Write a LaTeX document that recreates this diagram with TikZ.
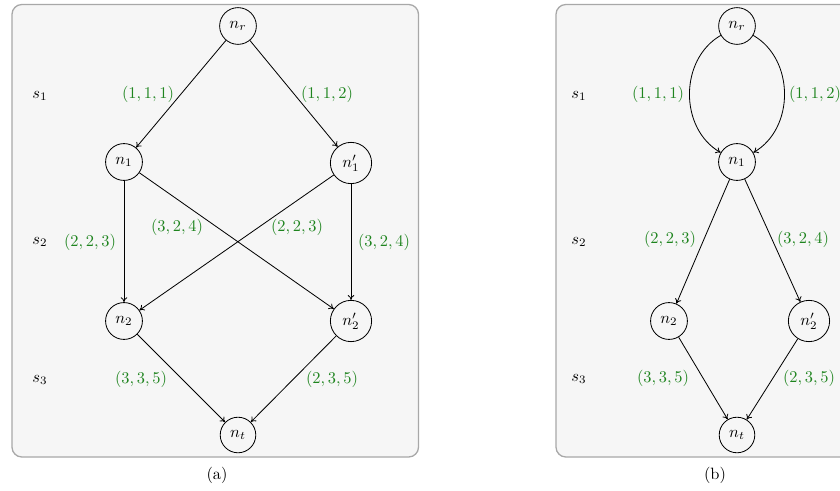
\documentclass[tikz,border=0pt]{standalone}
\usetikzlibrary{arrows.meta}
\definecolor{labgreen}{RGB}{30,132,30}
\definecolor{panelfill}{RGB}{246,246,246}
\definecolor{panelrule}{RGB}{168,168,168}
\begin{document}
\begin{tikzpicture}[x=0.61pt,y=-0.61pt,
  state/.style={draw,circle,inner sep=3.8pt,line width=0.5pt},
  edge/.style={-{To[length=3pt,width=4pt]},line width=0.5pt},
  wlab/.style={text=labgreen,inner sep=0pt},
  stage/.style={inner sep=0pt},
  panel/.style={draw=panelrule,fill=panelfill,rounded corners=6pt,line width=0.8pt}]
\useasboundingbox (0,0) rectangle (840,491);
\clip (0,0) rectangle (840,491);

% ---------- panel (a): two parallel paths per stage ----------
\draw[panel] (12,4.5) rectangle (418.5,457);
\node[stage] (sa1) at (40,96) {$s_1$};
\node[stage] (sa2) at (40,242) {$s_2$};
\node[stage] (sa3) at (40,380) {$s_3$};

\node[state] (ar)  at (238,26)  {$n_r$};
\node[state] (a1)  at (124,162) {$n_1$};
\node[state] (a1p) at (351,163) {$n_1'$};
\node[state] (a2)  at (124,321) {$n_2$};
\node[state] (a2p) at (351,321) {$n_2'$};
\node[state] (at)  at (238,435) {$n_t$};

\draw[edge] (ar) -- (a1);
\draw[edge] (ar) -- (a1p);
\draw[edge] (a1) -- (a2);
\draw[edge] (a1) -- (a2p);
\draw[edge] (a1p) -- (a2);
\draw[edge] (a1p) -- (a2p);
\draw[edge] (a2) -- (at);
\draw[edge] (a2p) -- (at);

\node[wlab] (la1) at (148,94)  {$(1,1,1)$};
\node[wlab] (la2) at (327,94)  {$(1,1,2)$};
\node[wlab] (la3) at (90,242)  {$(2,2,3)$};
\node[wlab] (la4) at (177,227) {$(3,2,4)$};
\node[wlab] (la5) at (297,227) {$(2,2,3)$};
\node[wlab] (la6) at (384,242) {$(3,2,4)$};
\node[wlab] (la7) at (141,379) {$(3,3,5)$};
\node[wlab] (la8) at (332,379) {$(2,3,5)$};

\node[inner sep=0pt] (capa) at (217,475) {(a)};

% ---------- panel (b): merged first stage ----------
\draw[panel] (556,4.5) rectangle (940,457);
\node[stage] (sb1) at (579,96) {$s_1$};
\node[stage] (sb2) at (579,242) {$s_2$};
\node[stage] (sb3) at (579,379) {$s_3$};

\node[state] (br)  at (737,26)  {$n_r$};
\node[state] (b1)  at (737,162) {$n_1$};
\node[state] (b2)  at (669,321) {$n_2$};
\node[state] (b2p) at (809,321) {$n_2'$};
\node[state] (bt)  at (737,435) {$n_t$};

\draw[edge] (br) to[out=210,in=150,looseness=1.05] (b1);
\draw[edge] (br) to[out=-30,in=30,looseness=1.05] (b1);
\draw[edge] (b1) -- (b2);
\draw[edge] (b1) -- (b2p);
\draw[edge] (b2) -- (bt);
\draw[edge] (b2p) -- (bt);

\node[wlab] (lb1) at (658,94)  {$(1,1,1)$};
\node[wlab] (lb2) at (815,94)  {$(1,1,2)$};
\node[wlab] (lb3) at (670,239) {$(2,2,3)$};
\node[wlab] (lb4) at (803,239) {$(3,2,4)$};
\node[wlab] (lb5) at (663,378) {$(3,3,5)$};
\node[wlab] (lb6) at (809,378) {$(2,3,5)$};

\node[inner sep=0pt] (capb) at (715,475) {(b)};
\end{tikzpicture}
\end{document}
